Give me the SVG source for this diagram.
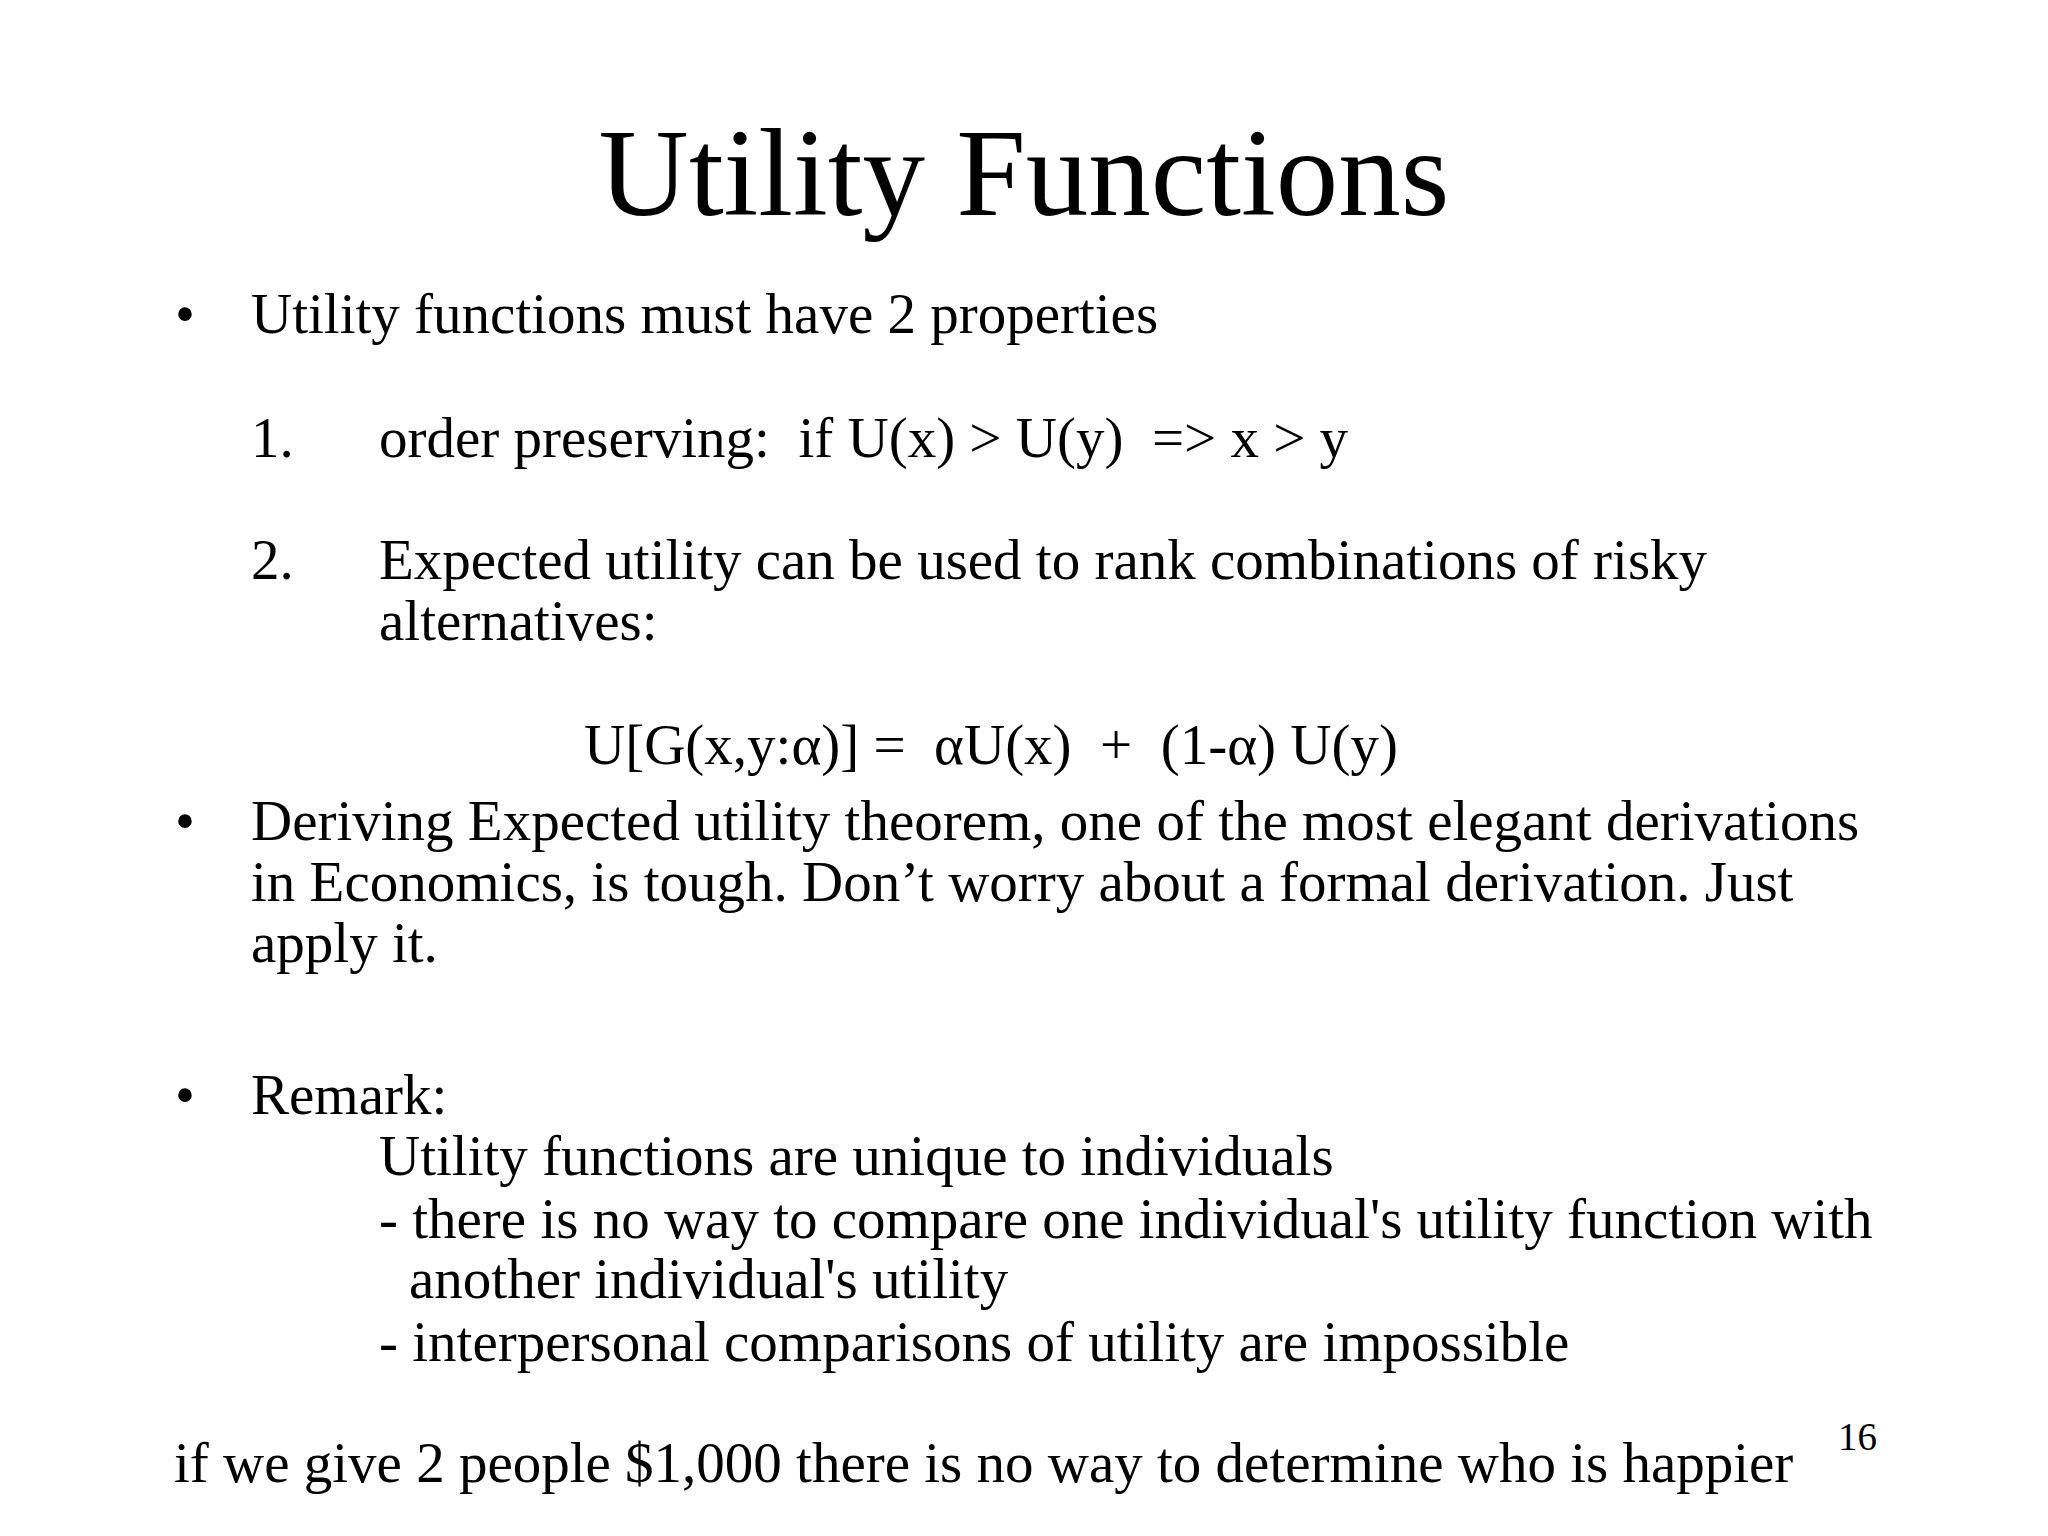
<svg xmlns="http://www.w3.org/2000/svg" width="2048" height="1536" viewBox="0 0 2048 1536">
<style>
text{font-family:"Liberation Serif","Times New Roman",serif;fill:#000}
.b{font-size:57px}
.t{font-size:125px}
</style>
<rect width="2048" height="1536" fill="#fff"/>
<text class="t" x="1024" y="215" text-anchor="middle">Utility Functions</text>
<g class="b">
<text class="b" x="175" y="333">•</text>
<text class="b" x="251" y="333">Utility functions must have 2 properties</text>
<text class="b" x="251" y="457">1.</text>
<text class="b" x="379" y="457" xml:space="preserve">order preserving:  if U(x) &gt; U(y)  =&gt; x &gt; y</text>
<text class="b" x="251" y="579">2.</text>
<text class="b" x="379" y="579">Expected utility can be used to rank combinations of risky</text>
<text class="b" x="379" y="640">alternatives:</text>
<text class="b" x="584" y="764" xml:space="preserve">U[G(x,y:α)] =  αU(x)  +  (1-α) U(y)</text>
<text class="b" x="175" y="840">•</text>
<text class="b" x="251" y="840">Deriving Expected utility theorem, one of the most elegant derivations</text>
<text class="b" x="251" y="901">in Economics, is tough. Don’t worry about a formal derivation. Just</text>
<text class="b" x="251" y="962">apply it.</text>
<text class="b" x="175" y="1114">•</text>
<text class="b" x="251" y="1114">Remark:</text>
<text class="b" x="379" y="1175">Utility functions are unique to individuals</text>
<text class="b" x="379" y="1238">- there is no way to compare one individual's utility function with</text>
<text class="b" x="409" y="1298">another individual's utility</text>
<text class="b" x="379" y="1361">- interpersonal comparisons of utility are impossible</text>
<text class="b" x="174" y="1482">if we give 2 people $1,000 there is no way to determine who is happier</text>
</g>
<text x="1838" y="1450" font-size="39">16</text>
</svg>
